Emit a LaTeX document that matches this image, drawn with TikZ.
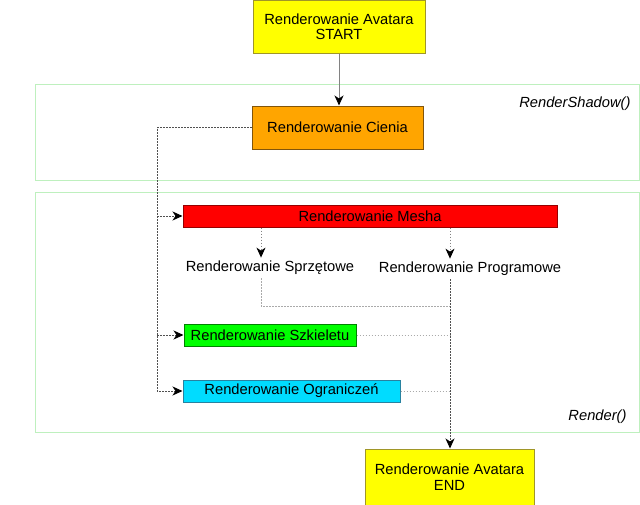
\documentclass[tikz,border=0pt]{standalone}
\usepackage{fontspec}
\setmainfont{Liberation Sans}
\usetikzlibrary{arrows.meta}
\definecolor{framegreen}{RGB}{190, 240, 190}
\definecolor{startfill}{RGB}{255, 255, 0}
\definecolor{startdraw}{RGB}{160, 150, 40}
\definecolor{shadowfill}{RGB}{255, 165, 0}
\definecolor{shadowdraw}{RGB}{130, 85, 10}
\definecolor{meshfill}{RGB}{255, 0, 0}
\definecolor{meshdraw}{RGB}{150, 0, 0}
\definecolor{skelfill}{RGB}{0, 255, 0}
\definecolor{skeldraw}{RGB}{0, 130, 0}
\definecolor{limitfill}{RGB}{0, 220, 255}
\definecolor{limitdraw}{RGB}{40, 130, 160}
\definecolor{busgray}{RGB}{80, 80, 80}
\definecolor{midgray}{RGB}{130, 130, 130}
\definecolor{lightgray}{RGB}{170, 170, 170}

\begin{document}
\begin{tikzpicture}[x=1pt, y=-1pt,
  font=\fontsize{14.7}{15.5}\selectfont,
  box/.style={draw, line width=1pt, inner sep=0pt, minimum height=22pt, align=center},
  frame/.style={draw=framegreen, line width=0.8pt, inner sep=0pt, outer sep=0pt},
  tip/.style={-{Stealth[black, length=10pt, width=9pt, inset=3pt]}},
  bus/.style={draw=busgray, line width=1pt, dash pattern=on 1.5pt off 1.5pt},
  light/.style={draw=lightgray, line width=1pt, dash pattern=on 1.5pt off 1.5pt}]
\useasboundingbox (0,0) rectangle (640,504);

% ramki
\node[frame, minimum width=604pt, minimum height=96pt] (shadowfr) at (337,132) {};
\node[frame, minimum width=604pt, minimum height=240pt] (renderfr) at (337,312) {};
\node[anchor=east, font=\fontsize{14.7}{15.5}\selectfont\itshape] (shadowlbl) at (634,104) {RenderShadow()};
\node[anchor=east, font=\fontsize{14.7}{15.5}\selectfont\itshape] (renderlbl) at (630,417) {Render()};

% bloki
\node[box, fill=startfill, draw=startdraw, minimum width=172pt, minimum height=53pt] (start) at (339,26.5) {Renderowanie Avatara\\START};
\node[box, fill=shadowfill, draw=shadowdraw, minimum width=171pt, minimum height=43pt] (cienia) at (337.5,127.5) {Renderowanie Cienia};
\node[box, fill=meshfill, draw=meshdraw, minimum width=374pt] (mesha) at (370,216) {Renderowanie Mesha};
\node (sprzet) at (270,268) {Renderowanie Sprzętowe};
\node (program) at (470,269) {Renderowanie Programowe};
\node[box, fill=skelfill, draw=skeldraw, minimum width=172pt] (szkielet) at (270,335) {Renderowanie Szkieletu};
\node[box, fill=limitfill, draw=limitdraw, minimum width=217pt] (ogr) at (291.5,391) {Renderowanie Ograniczeń};
\node[box, fill=startfill, draw=startdraw, minimum width=169pt, minimum height=56pt] (end) at (449.5,477) {Renderowanie Avatara\\END};

% punkty pomocnicze
\coordinate (busx) at (157,0);
\coordinate (hwx) at (261,0);
\coordinate (swx) at (450,0);
\coordinate (join) at (450,306);

% polaczenia
\draw[draw=midgray, line width=1pt, tip] (start.south) -- (start.south |- cienia.north);
\draw[bus, tip] (cienia.west) -| (busx |- ogr) -- (ogr.west);
\draw[bus, tip] (busx |- mesha) -- (mesha.west);
\draw[bus, tip] (busx |- szkielet) -- (szkielet.west);
\draw[draw=midgray, line width=1pt, dash pattern=on 1.5pt off 1.5pt, tip] (mesha.south -| hwx) -- (sprzet.north -| hwx);
\draw[draw=midgray, line width=1pt, dash pattern=on 1.5pt off 1.5pt, tip] (mesha.south -| swx) -- (program.north -| swx);
\draw[light] (sprzet.south -| hwx) |- (join);
\draw[light] (szkielet.east) -- (szkielet.east -| swx);
\draw[light] (ogr.east) -- (ogr.east -| swx);
\draw[bus, tip] (program.south -| swx) -- (end.north -| swx);
\end{tikzpicture}
\end{document}
